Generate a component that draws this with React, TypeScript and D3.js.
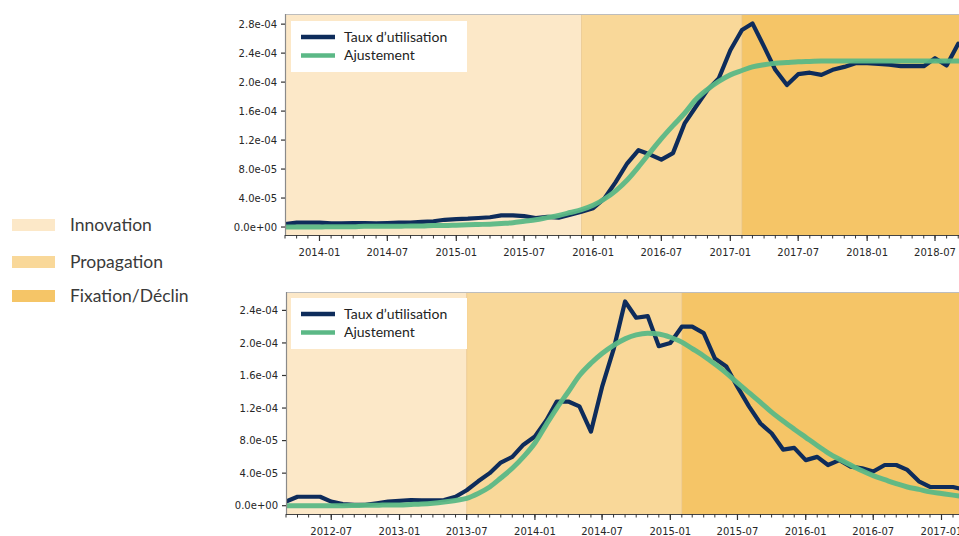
import React from 'react';
import * as d3 from 'd3';

// ---------- DATA ----------
const phaseNames = ['Innovation', 'Propagation', 'Fixation/Déclin'];
const phaseColors = ['#FCE8C8', '#F9D899', '#F5C567'];
const seriesNames = ['Taux d\u2019utilisation', 'Ajustement'];

// Top panel (monthly from 2013-10)
const topStart = '2013-10-01';
const topUsage = [
  0.4e-5, 0.6e-5, 0.6e-5,
  0.6e-5, 0.5e-5, 0.5e-5, 0.55e-5, 0.55e-5, 0.5e-5, 0.55e-5, 0.6e-5, 0.6e-5, 0.7e-5, 0.8e-5, 1.0e-5,
  1.1e-5, 1.15e-5, 1.25e-5, 1.35e-5, 1.6e-5, 1.6e-5, 1.5e-5, 1.25e-5, 1.4e-5, 1.3e-5, 1.7e-5, 2.1e-5,
  2.6e-5, 4.0e-5, 6.2e-5, 8.8e-5, 1.06e-4, 1.0e-4, 0.93e-4, 1.02e-4, 1.43e-4, 1.66e-4, 1.89e-4, 2.05e-4,
  2.44e-4, 2.72e-4, 2.81e-4, 2.49e-4, 2.17e-4, 1.96e-4, 2.11e-4, 2.13e-4, 2.10e-4, 2.17e-4, 2.21e-4, 2.26e-4,
  2.26e-4, 2.25e-4, 2.24e-4, 2.22e-4, 2.22e-4, 2.22e-4, 2.33e-4, 2.23e-4, 2.53e-4,
];
const topFit = [
  0.0, 0.0, 0.0,
  0.0, 0.05e-5, 0.05e-5, 0.05e-5, 0.1e-5, 0.1e-5, 0.1e-5, 0.1e-5, 0.15e-5, 0.15e-5, 0.2e-5, 0.2e-5,
  0.25e-5, 0.3e-5, 0.35e-5, 0.4e-5, 0.5e-5, 0.6e-5, 0.8e-5, 1.0e-5, 1.3e-5, 1.6e-5, 2.0e-5, 2.4e-5,
  3.0e-5, 3.9e-5, 5.0e-5, 6.5e-5, 8.3e-5, 1.03e-4, 1.22e-4, 1.40e-4, 1.57e-4, 1.76e-4, 1.90e-4, 2.01e-4,
  2.10e-4, 2.16e-4, 2.21e-4, 2.24e-4, 2.26e-4, 2.27e-4, 2.28e-4, 2.285e-4, 2.29e-4, 2.29e-4, 2.29e-4, 2.29e-4,
  2.29e-4, 2.29e-4, 2.29e-4, 2.29e-4, 2.29e-4, 2.29e-4, 2.29e-4, 2.29e-4, 2.29e-4,
];
const topPhaseBreaks = ['2015-12-01', '2017-02-01'];
const topXTicks = ['2014-01', '2014-07', '2015-01', '2015-07', '2016-01', '2016-07', '2017-01', '2017-07', '2018-01', '2018-07'];
const topYTicks = ['0.0e+00', '4.0e-05', '8.0e-05', '1.2e-04', '1.6e-04', '2.0e-04', '2.4e-04', '2.8e-04'];

// Bottom panel (monthly from 2012-03)
const botStart = '2012-03-01';
const botUsage = [
  0.5e-5, 1.1e-5, 1.1e-5, 1.1e-5, 0.5e-5, 0.2e-5, 0.1e-5, 0.1e-5, 0.3e-5, 0.5e-5,
  0.6e-5, 0.7e-5, 0.65e-5, 0.65e-5, 0.7e-5, 1.1e-5, 1.9e-5, 3.0e-5, 4.0e-5, 5.3e-5, 6.0e-5, 7.5e-5,
  8.5e-5, 1.05e-4, 1.28e-4, 1.28e-4, 1.22e-4, 0.91e-4, 1.46e-4, 1.92e-4, 2.51e-4, 2.31e-4, 2.33e-4, 1.96e-4,
  2.0e-4, 2.2e-4, 2.2e-4, 2.12e-4, 1.81e-4, 1.71e-4, 1.46e-4, 1.22e-4, 1.01e-4, 0.89e-4, 0.69e-4, 0.71e-4,
  5.6e-5, 6.0e-5, 5.0e-5, 5.6e-5, 4.8e-5, 4.6e-5, 4.2e-5, 5.0e-5, 5.0e-5, 4.4e-5, 3.0e-5, 2.3e-5,
  2.3e-5, 2.3e-5, 2.0e-5,
];
const botFit = [
  0.0, 0.0, 0.0, 0.0, 0.0, 0.0, 0.02e-5, 0.05e-5, 0.05e-5, 0.1e-5,
  0.1e-5, 0.15e-5, 0.2e-5, 0.3e-5, 0.45e-5, 0.65e-5, 0.9e-5, 1.5e-5, 2.3e-5, 3.4e-5, 4.6e-5, 6.0e-5,
  7.7e-5, 1.0e-4, 1.2e-4, 1.4e-4, 1.6e-4, 1.75e-4, 1.87e-4, 1.97e-4, 2.05e-4, 2.10e-4, 2.12e-4, 2.11e-4,
  2.07e-4, 2.01e-4, 1.93e-4, 1.84e-4, 1.74e-4, 1.63e-4, 1.51e-4, 1.39e-4, 1.27e-4, 1.15e-4, 1.04e-4, 0.94e-4,
  8.4e-5, 7.4e-5, 6.5e-5, 5.7e-5, 5.0e-5, 4.3e-5, 3.7e-5, 3.2e-5, 2.7e-5, 2.3e-5, 2.0e-5, 1.7e-5,
  1.5e-5, 1.3e-5, 1.1e-5,
];
const botPhaseBreaks = ['2013-07-01', '2015-02-01'];
const botXTicks = ['2012-07', '2013-01', '2013-07', '2014-01', '2014-07', '2015-01', '2015-07', '2016-01', '2016-07', '2017-01'];
const botYTicks = ['0.0e+00', '4.0e-05', '8.0e-05', '1.2e-04', '1.6e-04', '2.0e-04', '2.4e-04'];

// ---------- HELPERS ----------
const parseDay = d3.timeParse('%Y-%m-%d');
const parseMonth = d3.timeParse('%Y-%m');

type PanelLayout = {
  id: string;
  left: number; top: number; bottom: number;
  refA: [string, number]; refB: [string, number];
  end: string;
  yDomain: [number, number];
  legendBox: [number, number, number, number];
};

function Panel({ usage, fit, start, breaks, xTicks, yTicks, L }: {
  usage: number[]; fit: number[]; start: string; breaks: string[]; xTicks: string[]; yTicks: string[]; L: PanelLayout;
}) {
  const d0 = parseDay(start)!;
  const x = d3.scaleTime()
    .domain([parseDay(L.refA[0])!, parseDay(L.refB[0])!])
    .range([L.refA[1], L.refB[1]]);
  const endDate = parseDay(L.end)!;
  const right = x(endDate);
  const y = d3.scaleLinear().domain(L.yDomain).range([L.bottom, L.top]);

  const dates = usage.map((_, i) => d3.timeMonth.offset(d0, i));
  const line = d3.line<number>()
    .x((_, i) => x(dates[i]))
    .y((v) => y(v));
  const smooth = d3.line<number>()
    .x((_, i) => x(dates[i]))
    .y((v) => y(v))
    .curve(d3.curveMonotoneX);

  const edges = [d0, ...breaks.map((b) => parseDay(b)!), endDate];
  const minor = d3.timeMonth.range(d0, endDate);
  const clipId = `clip-${L.id}`;
  const [lx, ly, lw, lh] = L.legendBox;

  return (
    <g>
      <defs>
        <clipPath id={clipId}>
          <rect x={L.left} y={L.top} width={right - L.left} height={L.bottom - L.top} />
        </clipPath>
      </defs>
      <g clipPath={`url(#${clipId})`}>
        {phaseColors.map((c, i) => (
          <rect key={i} x={x(edges[i])} y={L.top} width={x(edges[i + 1]) - x(edges[i])}
            height={L.bottom - L.top} fill={c} />
        ))}
        {breaks.map((b, i) => (
          <line key={i} x1={x(parseDay(b)!)} x2={x(parseDay(b)!)} y1={L.top} y2={L.bottom}
            stroke="#E8C48A" strokeWidth={1} opacity={0.7} />
        ))}
        <path d={line(usage) ?? ''} fill="none" stroke="#0E2C5B" strokeWidth={4.2}
          strokeLinejoin="round" strokeLinecap="round" />
        <path d={smooth(fit) ?? ''} fill="none" stroke="#5BB886" strokeWidth={5}
          strokeLinejoin="round" strokeLinecap="round" opacity={0.95} />
      </g>
      {/* spines */}
      <line x1={L.left} x2={right} y1={L.top + 0.5} y2={L.top + 0.5} stroke="#BDBDBD" strokeWidth={1.2} />
      <line x1={L.left + 0.5} x2={L.left + 0.5} y1={L.top} y2={L.bottom} stroke="#8A8A8A" strokeWidth={1.2} />
      <line x1={L.left} x2={right} y1={L.bottom + 0.5} y2={L.bottom + 0.5} stroke="#444" strokeWidth={1.2} />
      {/* x ticks */}
      {minor.map((m, i) => (
        <line key={i} x1={x(m)} x2={x(m)} y1={L.bottom} y2={L.bottom + 3.5} stroke="#333" strokeWidth={1} />
      ))}
      {xTicks.map((t) => {
        const xx = x(parseMonth(t)!);
        return (
          <g key={t}>
            <line x1={xx} x2={xx} y1={L.bottom} y2={L.bottom + 6} stroke="#333" strokeWidth={1.2} />
            <text x={xx} y={L.bottom + 20.5} textAnchor="middle" fontSize={10}
              fontFamily="'DejaVu Sans', sans-serif" fill="#262626">{t}</text>
          </g>
        );
      })}
      {/* y ticks */}
      {yTicks.map((t) => {
        const yy = y(Number(t));
        return (
          <g key={t}>
            <line x1={L.left - 4} x2={L.left} y1={yy} y2={yy} stroke="#333" strokeWidth={1.2} />
            <text x={L.left - 8} y={yy} dy="0.36em" textAnchor="end" fontSize={10}
              fontFamily="'DejaVu Sans', sans-serif" fill="#262626">{t}</text>
          </g>
        );
      })}
      {/* legend */}
      <rect x={lx} y={ly} width={lw} height={lh} fill="#fff" />
      {seriesNames.map((n, i) => (
        <g key={n}>
          <line x1={lx + 10} x2={lx + 44} y1={ly + 16 + i * 18.5} y2={ly + 16 + i * 18.5}
            stroke={i === 0 ? '#0E2C5B' : '#5BB886'} strokeWidth={4.5} />
          <text x={lx + 53} y={ly + 16 + i * 18.5} dy="0.35em" fontSize={14}
            fontFamily="Lato, sans-serif" fill="#222">{n}</text>
        </g>
      ))}
    </g>
  );
}

const topLayout: PanelLayout = {
  id: 'top', left: 285, top: 14, bottom: 235,
  refA: ['2013-10-01', 285], refB: ['2018-07-01', 935], end: '2018-11-01',
  yDomain: [-1.1e-5, 2.94e-4], legendBox: [291, 21, 176, 51],
};
const botLayout: PanelLayout = {
  id: 'bot', left: 286, top: 292, bottom: 514,
  refA: ['2012-03-01', 286], refB: ['2017-01-01', 941.5], end: '2017-05-01',
  yDomain: [-1.02e-5, 2.626e-4], legendBox: [291, 298, 176, 51],
};

export default function App() {
  const legendY = [225, 262, 296];
  return (
    <svg width={959} height={536} style={{ position: 'absolute', left: 0, top: 0, background: '#fff' }}>
      <rect width={959} height={536} fill="#fff" />
      <Panel usage={topUsage} fit={topFit} start={topStart} breaks={topPhaseBreaks}
        xTicks={topXTicks} yTicks={topYTicks} L={topLayout} />
      <Panel usage={botUsage} fit={botFit} start={botStart} breaks={botPhaseBreaks}
        xTicks={botXTicks} yTicks={botYTicks} L={botLayout} />
      {phaseNames.map((n, i) => (
        <g key={n}>
          <rect x={12} y={legendY[i] - 6} width={43} height={12} fill={phaseColors[i]} />
          <text x={70} y={legendY[i]} dy="0.35em" fontSize={17.5} fontFamily="Lato, sans-serif" fill="#3a3a3a">{n}</text>
        </g>
      ))}
    </svg>
  );
}
